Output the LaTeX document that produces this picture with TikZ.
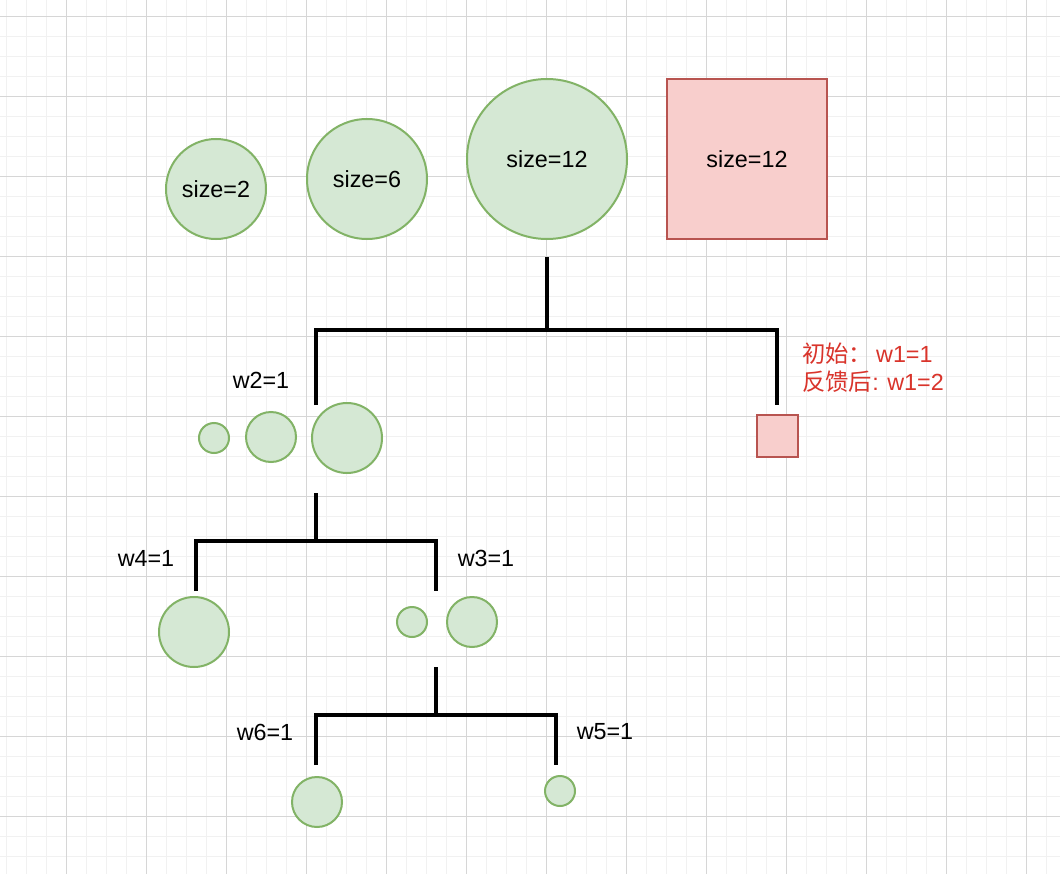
\documentclass[tikz,border=0pt]{standalone}
\usepackage{fontspec}
\setmainfont{Liberation Sans}
\newfontfamily\cjk{Noto Sans CJK SC}
\definecolor{gridminor}{HTML}{F1F1F1}
\definecolor{gridmajor}{HTML}{D6D6D6}
\definecolor{gfill}{HTML}{D5E8D4}
\definecolor{gline}{HTML}{82B366}
\definecolor{rfill}{HTML}{F8CECC}
\definecolor{rline}{HTML}{B85450}
\definecolor{note}{HTML}{D9342B}
\tikzset{
  minorline/.style={draw=gridminor, line width=1.4pt},
  majorline/.style={draw=gridmajor, line width=0.9pt},
  gcirc/.style={circle, fill=gfill, draw=gline, line width=1.5pt, inner sep=0pt},
  rbox/.style={rectangle, fill=rfill, draw=rline, line width=1.5pt, inner sep=0pt},
  branch/.style={draw=black, line width=2.75pt, line join=miter},
  lbl/.style={font=\fontsize{17.5}{20}\selectfont, inner sep=0pt},
  notelbl/.style={font=\fontsize{17.5}{20}\selectfont, text=note, inner sep=0pt, anchor=west}
}
\begin{document}
\begin{tikzpicture}[x=0.75pt, y=-0.75pt]
\useasboundingbox (0,0) rectangle (1060,874);
\fill[white] (0,0) rectangle (1060,874);
% background grid
\foreach \x in {6.5,26.5,...,1060} \draw[minorline] (\x,0) -- (\x,874);
\foreach \y in {16.5,36.5,...,874} \draw[minorline] (0,\y) -- (1060,\y);
\foreach \x in {66.5,146.5,...,1060} \draw[majorline] (\x,0) -- (\x,874);
\foreach \y in {16.5,96.5,...,874} \draw[majorline] (0,\y) -- (1060,\y);

% top row
\node[gcirc, minimum size=75pt] (s2) at (216,189) {};
\node[lbl] (s2t) at (216,189) {size=2};
\node[gcirc, minimum size=90pt] (s6) at (367,179) {};
\node[lbl] (s6t) at (367,179) {size=6};
\node[gcirc, minimum size=120pt] (s12) at (547,159) {};
\node[lbl] (s12t) at (547,159) {size=12};
\node[rbox, minimum size=120pt] (b12) at (747,159) {};
\node[lbl] (b12t) at (747,159) {size=12};

% first split
\coordinate (a0) at (547,257);
\coordinate (a1) at (547,330);
\coordinate (aL) at (316,405);
\coordinate (aR) at (777,405);
\draw[branch] (aL) |- (a1) -| (aR);
\draw[branch] (a0) -- (a1);
\node[lbl] (w2) at (261,380) {w2=1};
\node[notelbl] (n1) at (802,354) {{\cjk 初始：}\,w1=1};
\node[notelbl] (n2) at (802,382) {{\cjk 反馈后}: w1=2};

\node[gcirc, minimum size=22.5pt] (c1) at (214,438) {};
\node[gcirc, minimum size=37.5pt] (c2) at (271,437) {};
\node[gcirc, minimum size=52.5pt] (c3) at (347,438) {};
\node[rbox, minimum size=31pt] (rb) at (777.5,436) {};

% second split
\coordinate (b0) at (316,493);
\coordinate (b1) at (316,541);
\coordinate (bL) at (196,591);
\coordinate (bR) at (436,591);
\draw[branch] (bL) |- (b1) -| (bR);
\draw[branch] (b0) -- (b1);
\node[lbl] (w4) at (146,558) {w4=1};
\node[lbl] (w3) at (486,558) {w3=1};

\node[gcirc, minimum size=52.5pt] (d1) at (194,632) {};
\node[gcirc, minimum size=22.5pt] (d2) at (412,622) {};
\node[gcirc, minimum size=37.5pt] (d3) at (472,622) {};

% third split
\coordinate (e0) at (436,667);
\coordinate (e1) at (436,715);
\coordinate (eL) at (316,765);
\coordinate (eR) at (556,765);
\draw[branch] (eL) |- (e1) -| (eR);
\draw[branch] (e0) -- (e1);
\node[lbl] (w6) at (265,732) {w6=1};
\node[lbl] (w5) at (605,732) {w5=1};

\node[gcirc, minimum size=37.5pt] (f1) at (317,802) {};
\node[gcirc, minimum size=22.5pt] (f2) at (560,791) {};
\end{tikzpicture}
\end{document}
